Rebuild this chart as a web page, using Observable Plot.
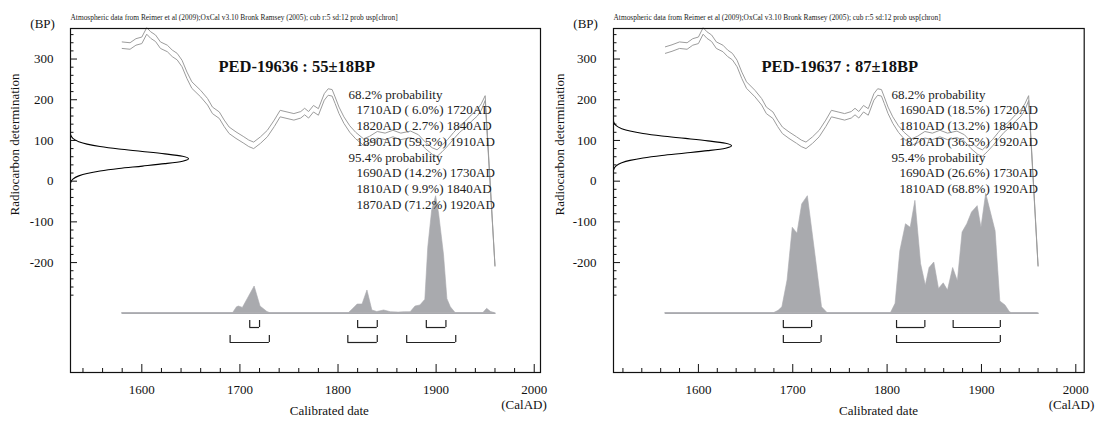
<!DOCTYPE html>
<html><head><meta charset="utf-8">
<script src="https://cdn.jsdelivr.net/npm/d3@7"></script>
<script src="https://cdn.jsdelivr.net/npm/@observablehq/plot@0.6"></script>
<style>
body{margin:0;background:#fff;}
#wrap{position:relative;width:1101px;height:423px;overflow:hidden;background:#fff;}
#wrap > div{position:absolute;top:0;}
</style></head><body>
<div id="wrap"><div id="p1" style="left:0"></div><div id="p2" style="left:550px"></div></div>
<script>
// ---------- data ----------
const headerText = "Atmospheric data from Reimer et al (2009);OxCal v3.10 Bronk Ramsey (2005); cub r:5 sd:12 prob usp[chron]";

// calibration curve (IntCal): cal AD, radiocarbon BP, 1-sigma
const calYear = [1565,1572,1580,1588,1594,1600,1605,1609,1614,1619,1626,1631,1636,1641,1646,1651,1660,1667,1672,1679,1684,1689,1696,1704,1709,1714,1721,1728,1735,1741,1748,1755,1762,1766,1770,1775,1780,1786,1790,1794,1797,1801,1806,1812,1818,1826,1832,1840,1848,1856,1864,1874,1882,1889,1896,1901,1906,1912,1918,1924,1930,1936,1942,1946,1950,1960];
const calBP   = [322,327,334,332,342,346,369,359,351,334,326,314,306,289,260,236,215,195,174,162,142,125,113,101,93,88,101,117,142,166,162,158,163,171,163,178,170,207,219,217,199,174,150,128,112,96,102,114,110,117,110,115,106,88,74,69,80,95,112,128,140,155,168,182,204,-208];
const calErr  = [8,8,8,8,8,8,8,8,8,8,8,8,8,8,8,8,8,8,8,8,8,8,8,8,8,8,8,8,8,8,8,8,8,8,8,8,8,8,8,8,8,8,8,8,8,8,8,8,8,8,8,8,8,8,8,8,8,8,8,8,8,8,8,8,6,1];

// radiocarbon measurement profile (offset from mean BP, relative density)
const gaussOffset  = [-60,-50,-42,-36,-30,-24,-18,-12,-6,0,6,12,18,24,30,36,42,50,60];
const gaussDensity = [0,0.02,0.07,0.14,0.25,0.41,0.61,0.80,0.95,1,0.95,0.80,0.61,0.41,0.25,0.14,0.07,0.02,0];

// PED-19636
const s1Name = "PED-19636", s1Mean = 55, s1Err = 18;
const s1DistYear = [1580,1693,1697,1699,1703,1715,1721,1728,1731,1811,1816,1820,1825,1830,1835,1840,1847,1854,1862,1868,1874,1879,1884,1889,1892,1896,1900,1903,1908,1911.5,1915,1920,1948,1952,1956,1960];
const s1DistP    = [0,0,0.05,0.057,0.045,0.228,0.057,0.01,0,0,0.04,0.074,0.074,0.194,0.023,0.01,0.023,0.008,0.005,0.008,0.008,0.057,0.066,0.114,0.56,0.88,1.0,0.85,0.5,0.12,0.05,0,0,0.037,0.01,0];
const s1From68 = [1710,1820,1890], s1To68 = [1720,1840,1910], s1Pct68 = [6.0,2.7,59.5];
const s1From95 = [1690,1810,1870], s1To95 = [1730,1840,1920], s1Pct95 = [14.2,9.9,71.2];

// PED-19637
const s2Name = "PED-19637", s2Mean = 87, s2Err = 18;
const s2DistYear = [1565,1680,1685,1689,1694.5,1700,1705,1710,1716,1724,1731,1737,1804,1809,1814,1820,1825,1830,1836,1841,1845,1850,1855,1860,1864.5,1870,1875,1880,1885,1890,1896,1900,1905,1915,1920,1925.5,1930,1932,1960];
const s2DistP    = [0,0,0.02,0.05,0.28,0.73,0.68,0.93,1.0,0.5,0.05,0,0,0.08,0.53,0.76,0.73,0.96,0.42,0.235,0.386,0.433,0.207,0.255,0.193,0.386,0.272,0.69,0.76,0.86,0.915,0.73,1.02,0.70,0.10,0.065,0.01,0,0];
const s2From68 = [1690,1810,1870], s2To68 = [1720,1840,1920], s2Pct68 = [18.5,13.2,36.5];
const s2From95 = [1690,1810], s2To95 = [1730,1920], s2Pct95 = [26.6,68.8];

// axes
const xLabels = [1600,1700,1800,1900,2000];
const yLabels = [-200,-100,0,100,200,300];
const yTicks = d3.range(-280, 361, 20);

// ---------- drawing ----------
const FONT = "'Liberation Serif','Times New Roman',Times,serif";
const yDomain = [-470, 375];
const GRAYF = "#a9aaae", GRAYL = "#9c9c9c";

function panel(cfg) {
  const H = 423;
  const {width, ml, mr, mt, mb, xDomain} = cfg;
  const pxPerYear = (width - ml - mr) / (xDomain[1] - xDomain[0]);
  const pxPerBP = (H - mt - mb) / (yDomain[1] - yDomain[0]);
  const x0 = xDomain[0], yB = yDomain[0];
  const cal = calYear.map((year, i) => ({year, bp: calBP[i], err: calErr[i]})).filter(d => d.year >= cfg.start);
  const gauss = gaussOffset.map((o, i) => ({bp: cfg.mean + o, d: gaussDensity[i]}));
  const dist = cfg.distYear.map((year, i) => ({year, p: cfg.distP[i]}));
  const base = -324.3, distAmp = 117 / pxPerBP;
  const gaussAmp = 118 / pxPerYear;
  const xTicks = d3.range(Math.ceil(x0 / 20) * 20, 2001, 20);
  const iv68 = cfg.from68.map((f, i) => ({from: f, to: cfg.to68[i], pct: cfg.pct68[i]}));
  const iv95 = cfg.from95.map((f, i) => ({from: f, to: cfg.to95[i], pct: cfg.pct95[i]}));
  const row68 = -359.5, row68t = -342.3, row95 = -396.3, row95t = -379.1;
  const fmt = d => `${d.from}AD (${d.pct.toFixed(1).padStart(4, " ")}%) ${d.to}AD`;
  const lines = [{t: "68.2% probability", ind: 0}]
    .concat(iv68.map(d => ({t: fmt(d), ind: 1})))
    .concat([{t: "95.4% probability", ind: 0}])
    .concat(iv95.map(d => ({t: fmt(d), ind: 1})));

  const marks = [
    Plot.areaY(dist, {x: "year", y1: () => base, y2: d => base + d.p * distAmp, fill: GRAYF, stroke: GRAYF, strokeWidth: 0.6}),
    Plot.line(dist, {x: "year", y: () => base, stroke: GRAYF, strokeWidth: 1.6}),
    Plot.line(cal, {x: "year", y: d => d.bp + d.err, stroke: GRAYL, strokeWidth: 1}),
    Plot.line(cal, {x: "year", y: d => d.bp - d.err, stroke: GRAYL, strokeWidth: 1}),
    Plot.line(gauss, {x: d => x0 + d.d * gaussAmp, y: "bp", curve: "monotone-y", stroke: "black", strokeWidth: 1.1}),
    // brackets
    Plot.ruleY(iv68, {y: () => row68, x1: "from", x2: "to", stroke: "#222", strokeWidth: 1.2}),
    Plot.ruleX(iv68.flatMap(d => [d.from, d.to]), {x: d => d, y1: row68, y2: row68t, stroke: "#222", strokeWidth: 1.2}),
    Plot.ruleY(iv95, {y: () => row95, x1: "from", x2: "to", stroke: "#222", strokeWidth: 1.2}),
    Plot.ruleX(iv95.flatMap(d => [d.from, d.to]), {x: d => d, y1: row95, y2: row95t, stroke: "#222", strokeWidth: 1.2}),
    // axis ticks
    Plot.ruleX(xTicks, {x: d => d, y1: yB, y2: d => yB + (d % 100 === 0 ? 8 : 4) / pxPerBP, stroke: "#111", strokeWidth: 1}),
    Plot.ruleY(yTicks, {y: d => d, x1: x0, x2: d => x0 + (d % 100 === 0 ? 7 : 3.5) / pxPerYear, stroke: "#111", strokeWidth: 1}),
    Plot.text(xLabels, {x: d => d, y: () => yB, text: d => String(d), dy: 17, fontSize: 13, fill: "#111"}),
    Plot.text(yLabels, {x: () => x0, y: d => d, text: d => String(d), dx: -17, textAnchor: "end", fontSize: 13, fill: "#111"}),
    Plot.frame({stroke: "#111", strokeWidth: 1.2}),
    // texts
    Plot.text([headerText], {frameAnchor: "top-left", dx: 0, dy: -14, textAnchor: "start", fontSize: 7.4, fill: "#222"}),
    Plot.text(["(BP)"], {frameAnchor: "top-left", dx: -40.2, dy: -9.5, textAnchor: "start", fontSize: 13, fill: "#111"}),
    Plot.text(["Radiocarbon determination"], {frameAnchor: "top-left", dx: cfg.rdx, dy: 116, rotate: -90, textAnchor: "middle", fontSize: 13, fill: "#111"}),
    Plot.text(["Calibrated date"], {frameAnchor: "bottom-left", dx: cfg.cdx, dy: 42, textAnchor: "middle", fontSize: 13, fill: "#111"}),
    Plot.text(["(CalAD)"], {frameAnchor: "bottom-left", dx: cfg.adx, dy: 36, textAnchor: "middle", fontSize: 13, fill: "#111"}),
    Plot.text([`${cfg.name} : ${cfg.mean}\u00b1${cfg.err}BP`], {frameAnchor: "top-left", dx: 148, dy: 31.5, textAnchor: "start", fontSize: 16.5, fontWeight: "bold", fill: "#111"}),
    ...lines.map((l, i) => Plot.text([l.t], {frameAnchor: "top-left", dx: l.ind ? 286 : 278, dy: 61 + i * 15.7, textAnchor: "start", fontSize: 13, fill: "#222"}))
  ];

  return Plot.plot({
    width, height: H,
    marginLeft: ml, marginRight: mr, marginTop: mt, marginBottom: mb,
    x: {domain: xDomain, axis: null},
    y: {domain: yDomain, axis: null},
    style: {fontFamily: FONT, background: "white", overflow: "visible"},
    marks
  });
}

document.getElementById("p1").appendChild(panel({
  width: 550, ml: 70, mr: 10, mt: 28, mb: 51, xDomain: [1527.3, 2006.4], start: 1580,
  name: s1Name, mean: s1Mean, err: s1Err, distYear: s1DistYear, distP: s1DistP,
  from68: s1From68, to68: s1To68, pct68: s1Pct68, from95: s1From95, to95: s1To95, pct95: s1Pct95,
  rdx: -61, cdx: 258.8, adx: 453.5
}));
document.getElementById("p2").appendChild(panel({
  width: 551, ml: 63, mr: 17.3, mt: 28, mb: 51, xDomain: [1510, 2008.9], start: 1565,
  name: s2Name, mean: s2Mean, err: s2Err, distYear: s2DistYear, distP: s2DistP,
  from68: s2From68, to68: s2To68, pct68: s2Pct68, from95: s2From95, to95: s2To95, pct95: s2Pct95,
  rdx: -59, cdx: 265, adx: 458
}));
</script>
</body></html>
